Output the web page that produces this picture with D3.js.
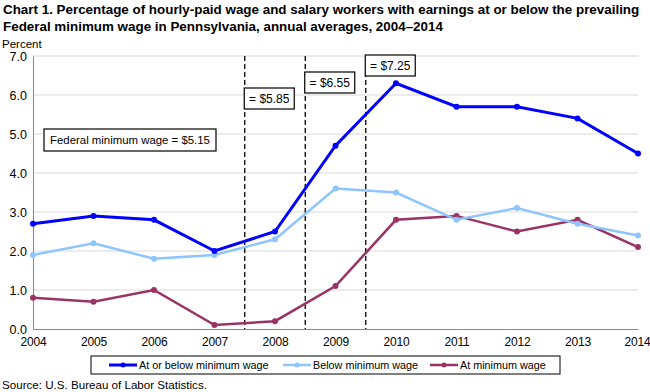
<!DOCTYPE html>
<html><head><meta charset="utf-8">
<script src="https://cdn.jsdelivr.net/npm/d3@7"></script>
<style>body{margin:0;background:#fff}svg{font-family:"Liberation Sans",Arial,sans-serif}</style>
</head><body><svg id="c" width="650" height="392"></svg>
<script>
const years = [2004,2005,2006,2007,2008,2009,2010,2011,2012,2013,2014];
const atOrBelow = [2.7,2.9,2.8,2.0,2.5,4.7,6.3,5.7,5.7,5.4,4.5];
const below = [1.9,2.2,1.8,1.9,2.3,3.6,3.5,2.8,3.1,2.7,2.4];
const atMin = [0.8,0.7,1.0,0.1,0.2,1.1,2.8,2.9,2.5,2.8,2.1];
const yTicks = [0,1,2,3,4,5,6,7];
const seriesNames = ["At or below minimum wage","Below minimum wage","At minimum wage"];
const seriesColors = ["#0000FF","#8EC5FF","#993366"];
const wageChanges = [2007.5,2008.5,2009.5];
const wageLabels = ["= $5.85","= $6.55","= $7.25"];

const svg = d3.select("#c");
const x = d3.scaleLinear().domain([2004,2014]).range([33,638]);
const y = d3.scaleLinear().domain([0,7]).range([329,56]);

svg.append("text").attr("x",3).attr("y",14).attr("font-size",13.4).attr("font-weight","bold").text("Chart 1. Percentage of hourly-paid wage and salary workers with earnings at or below the prevailing");
svg.append("text").attr("x",3).attr("y",31).attr("font-size",13.4).attr("font-weight","bold").text("Federal minimum wage in Pennsylvania, annual averages, 2004\u20132014");
svg.append("text").attr("x",2).attr("y",48).attr("font-size",11.5).text("Percent");

// gridlines
svg.append("g").selectAll("line").data(yTicks.filter(d=>d>0)).join("line")
  .attr("x1",x(2004)).attr("x2",x(2014)).attr("y1",d=>y(d)).attr("y2",d=>y(d))
  .attr("stroke","#d9d9d9").attr("stroke-width",1);

// axes
const yAxis = svg.append("g").attr("transform",`translate(${x(2004)},0)`)
  .call(d3.axisLeft(y).tickValues(yTicks).tickFormat(d3.format(".1f")).tickSize(0).tickPadding(6));
yAxis.select(".domain").attr("stroke","#888");
yAxis.selectAll("text").attr("font-size",12.5).attr("fill","#000").attr("font-family","Liberation Sans, Arial, sans-serif");
const xAxis = svg.append("g").attr("transform",`translate(0,${y(0)})`)
  .call(d3.axisBottom(x).tickValues(years).tickFormat(d3.format("d")).tickSize(0).tickPadding(8));
xAxis.select(".domain").attr("stroke","#888");
xAxis.selectAll("text").attr("font-size",12).attr("letter-spacing",-0.2).attr("fill","#000").attr("font-family","Liberation Sans, Arial, sans-serif");
xAxis.selectAll("text").filter(d=>d===2014).attr("text-anchor","end").attr("dx",12);

// dashed lines
svg.append("g").selectAll("line").data(wageChanges).join("line")
  .attr("x1",d=>x(d)).attr("x2",d=>x(d)).attr("y1",y(7)).attr("y2",y(0))
  .attr("stroke","#000").attr("stroke-width",1.3).attr("stroke-dasharray","5,3");

// series
const allSeries = [atOrBelow,below,atMin];
const line = d3.line().x((d,i)=>x(years[i])).y(d=>y(d));
[2,1,0].forEach(k=>{
  const g = svg.append("g");
  g.append("path").datum(allSeries[k]).attr("d",line).attr("fill","none")
    .attr("stroke",seriesColors[k]).attr("stroke-width",k===0?3:2.5);
  g.selectAll("circle").data(allSeries[k]).join("circle")
    .attr("cx",(d,i)=>x(years[i])).attr("cy",d=>y(d)).attr("r",3).attr("fill",seriesColors[k]);
});

// annotation boxes
function box(x0,y0,w,h,t,fs){
  svg.append("rect").attr("x",x0).attr("y",y0).attr("width",w).attr("height",h)
    .attr("fill","#fff").attr("stroke","#000").attr("stroke-width",1.2);
  svg.append("text").attr("x",x0+w/2).attr("y",y0+h/2+4.3).attr("text-anchor","middle").attr("font-size",fs).text(t);
}
box(44,129,172,22,"Federal minimum  wage = $5.15",11.4);
const boxYs = [88,72,55];
wageChanges.forEach((d,i)=>box(x(d)-0.5,boxYs[i],50,21,wageLabels[i],12));

// legend
svg.append("rect").attr("x",91).attr("y",356).attr("width",469).attr("height",18)
  .attr("fill","#fff").attr("stroke","#000").attr("stroke-width",1);
const legX = [109,283,430];
seriesNames.forEach((n,k)=>{
  svg.append("line").attr("x1",legX[k]).attr("x2",legX[k]+28).attr("y1",365).attr("y2",365)
    .attr("stroke",seriesColors[k]).attr("stroke-width",k===0?3:2.5);
  svg.append("circle").attr("cx",legX[k]+14).attr("cy",365).attr("r",2.5).attr("fill",seriesColors[k]);
  svg.append("text").attr("x",legX[k]+30).attr("y",369).attr("font-size",10.8).text(n);
});

svg.append("text").attr("x",2).attr("y",389).attr("font-size",11.6).text("Source: U.S. Bureau of Labor Statistics.");
</script></body></html>
